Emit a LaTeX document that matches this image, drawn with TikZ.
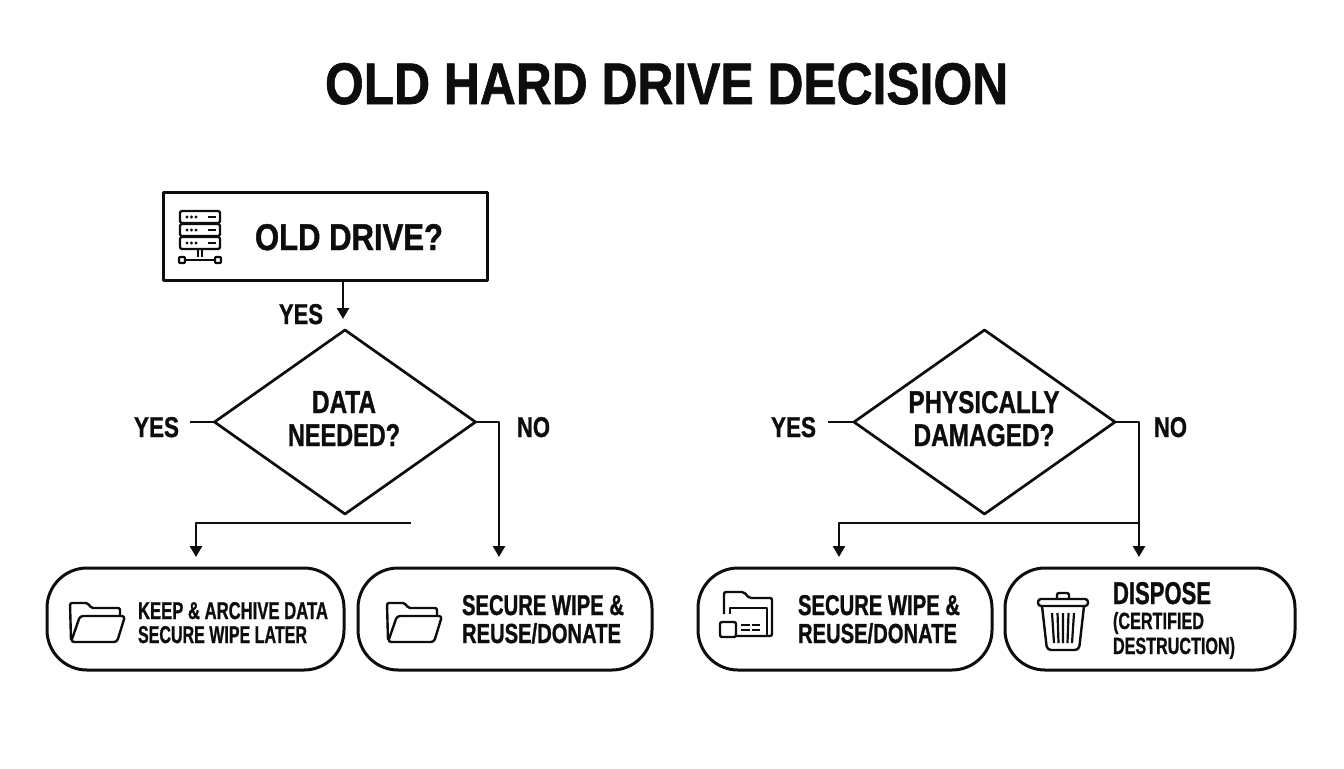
\documentclass[tikz,border=0pt]{standalone}
\usepackage{fontspec}
\usepackage{graphicx}
\setmainfont[BoldFeatures={FakeBold=1.2}]{Liberation Sans}
\usetikzlibrary{shapes.geometric,arrows.meta}
\definecolor{ink}{HTML}{0D0D0D}
\newlength{\pxu}\setlength{\pxu}{0.75pt}
\newcommand{\fl}[3]{\resizebox{#1\pxu}{#2\pxu}{\fontsize{12}{14}\selectfont\bfseries #3}}
\newcommand{\bls}[1]{\fontsize{12pt}{#1\pxu}\selectfont}
\tikzset{
  x=0.75pt,y=-0.75pt,
  every path/.style={line join=round},
  lbl/.style={inner sep=0pt,outer sep=0pt,anchor=north west,align=left,text=ink},
  flowbox/.style={draw=ink,line width=3\pxu,rectangle,inner sep=0pt,outer sep=0pt},
  pill/.style={flowbox,rounded corners=40\pxu,minimum height=102\pxu},
  choice/.style={draw=ink,line width=2.7\pxu,diamond,inner sep=0pt,outer sep=0pt,minimum width=261\pxu,minimum height=184\pxu},
  conn/.style={draw=ink,line width=2.6\pxu},
  arrowed/.style={conn,-{Triangle[length=8.25pt,width=9pt]},shorten >=11\pxu},
  icon/.style={draw=ink,line width=2.4\pxu,rounded corners=2\pxu},
  thin icon/.style={draw=ink,line width=2.2\pxu}
}
\begin{document}
\begin{tikzpicture}
\useasboundingbox (0,0) rectangle (1344,768);
% title
\node[lbl] (title) at (325,63) {\fl{683}{41}{OLD HARD DRIVE DECISION}};
% main nodes
\node[flowbox,minimum width=324\pxu,minimum height=88\pxu] (old) at (325,236) {};
\node[choice] (dia1) at (345,422) {};
\node[choice] (dia2) at (984.5,422) {};
\node[pill,minimum width=297\pxu] (box1) at (195.5,619) {};
\node[pill,minimum width=294\pxu] (box2) at (505,619) {};
\node[pill,minimum width=294\pxu] (box3) at (845,619) {};
\node[pill,minimum width=290\pxu] (box4) at (1150,619) {};
% labels
\node[lbl] (toldl) at (255,224) {\fl{188}{26}{OLD DRIVE?}};
\node[lbl] (yes0) at (279,304) {\fl{44}{20}{YES}};
\node[lbl,font=\bls{33},align=center,anchor=north] (t1) at (344,391) {\fl{64}{22}{DATA}\\\fl{112}{22}{NEEDED?}};
\node[lbl,font=\bls{33},align=center,anchor=north] (t2) at (984,391) {\fl{151}{22}{PHYSICALLY}\\\fl{141}{22}{DAMAGED?}};
\node[lbl] (yes1) at (134,417) {\fl{45}{20}{YES}};
\node[lbl] (no1) at (517,417) {\fl{33}{20}{NO}};
\node[lbl] (yes2) at (771,417) {\fl{45}{20}{YES}};
\node[lbl] (no2) at (1154,417) {\fl{33}{20}{NO}};
\node[lbl,font=\bls{24}] (tb1) at (138,602) {\fl{190}{17}{KEEP \& ARCHIVE DATA}\\\fl{169}{17}{SECURE WIPE LATER}};
\node[lbl,font=\bls{28}] (tb2) at (462,595) {\fl{162}{20}{SECURE WIPE \&}\\\fl{159}{20}{REUSE/DONATE}};
\node[lbl,font=\bls{28}] (tb3) at (798,595) {\fl{162}{20}{SECURE WIPE \&}\\\fl{159}{20}{REUSE/DONATE}};
\node[lbl,font=\bls{24}] (tb4a) at (1113,582) {\fl{98}{22}{DISPOSE}};
\node[lbl,font=\bls{25}] (tb4b) at (1113,612) {\fl{91}{17}{(CERTIFIED}\\\fl{122}{17}{DESTRUCTION)}};
% connectors
\coordinate (r1) at (499,422);
\coordinate (r2) at (1139,422);
\coordinate (l1) at (190,422);
\coordinate (l2) at (828,422);
\coordinate (j1) at (411,523);
\coordinate (j2) at (1139,523);
\coordinate (d1) at (196,523);
\coordinate (d2) at (839,523);
\coordinate (a0) at (343,280);
\draw[arrowed] (a0) -- (a0 |- dia1.north);
\draw[conn] (dia1.west) -- (l1);
\draw[conn] (dia2.west) -- (l2);
\draw[arrowed] (dia1.east) -- (r1) -- (r1 |- box2.north);
\draw[arrowed] (dia2.east) -- (r2) -- (r2 |- box4.north);
\draw[arrowed] (j1) -- (d1) -- (d1 |- box1.north);
\draw[arrowed] (j2) -- (d2) -- (d2 |- box3.north);
% server icon
\begin{scope}[shift={(179,211)}]
  \foreach \yy in {0,13,26}{
    \draw[thin icon,rounded corners=1.5\pxu] (1,\yy) rectangle (41,\yy+12);
    \fill[ink] (8,\yy+6) circle (1.6\pxu) (12.5,\yy+6) circle (1.6\pxu) (17,\yy+6) circle (1.6\pxu);
    \draw[thin icon] (29,\yy+6) -- (37,\yy+6);
  }
  \draw[thin icon] (19,38) -- (19,46) (23,38) -- (23,46);
  \draw[thin icon] (6,49) -- (36,49);
  \draw[thin icon,rounded corners=1\pxu] (0,46) rectangle (6,52);
  \draw[thin icon,rounded corners=1\pxu] (36,46) rectangle (42,52);
\end{scope}
% folder icons
\foreach \fx/\fy in {70/603,387/603}{
\begin{scope}[shift={(\fx,\fy)}]
  \draw[icon] (1,37) -- (0,0) -- (18,0) -- (21,5) -- (50,5) -- (50,12);
  \draw[icon,rounded corners=3\pxu] (10,13) -- (55,13) -- (47,39) -- (1,39) -- cycle;
\end{scope}}
% folder with card
\begin{scope}[shift={(720,592)}]
  \draw[icon] (4,22) -- (4,0) -- (24,0) -- (29,6) -- (52,6) -- (52,44) -- (16,44);
  \draw[thin icon] (10,22) -- (10,16) -- (47,16) -- (47,44);
  \draw[icon,fill=white] (0,30) rectangle (16,45);
  \draw[thin icon] (21,33) -- (30,33) (32,33) -- (40,33) (21,38) -- (30,38) (32,38) -- (40,38);
\end{scope}
% trash icon
\begin{scope}[shift={(1038,591)}]
  \draw[icon,rounded corners=3\pxu] (0,8) rectangle (50,15);
  \draw[icon] (19,8) -- (19,2) -- (31,2) -- (31,8);
  \draw[icon,rounded corners=4\pxu] (4,15) -- (9,59) -- (41,59) -- (46,15);
  \draw[thin icon] (14,22) -- (16,52) (25,22) -- (25,52) (36,22) -- (34,52);
  \draw[thin icon] (19.5,22) -- (20.5,52) (30.5,22) -- (29.5,52);
\end{scope}
\end{tikzpicture}
\end{document}
